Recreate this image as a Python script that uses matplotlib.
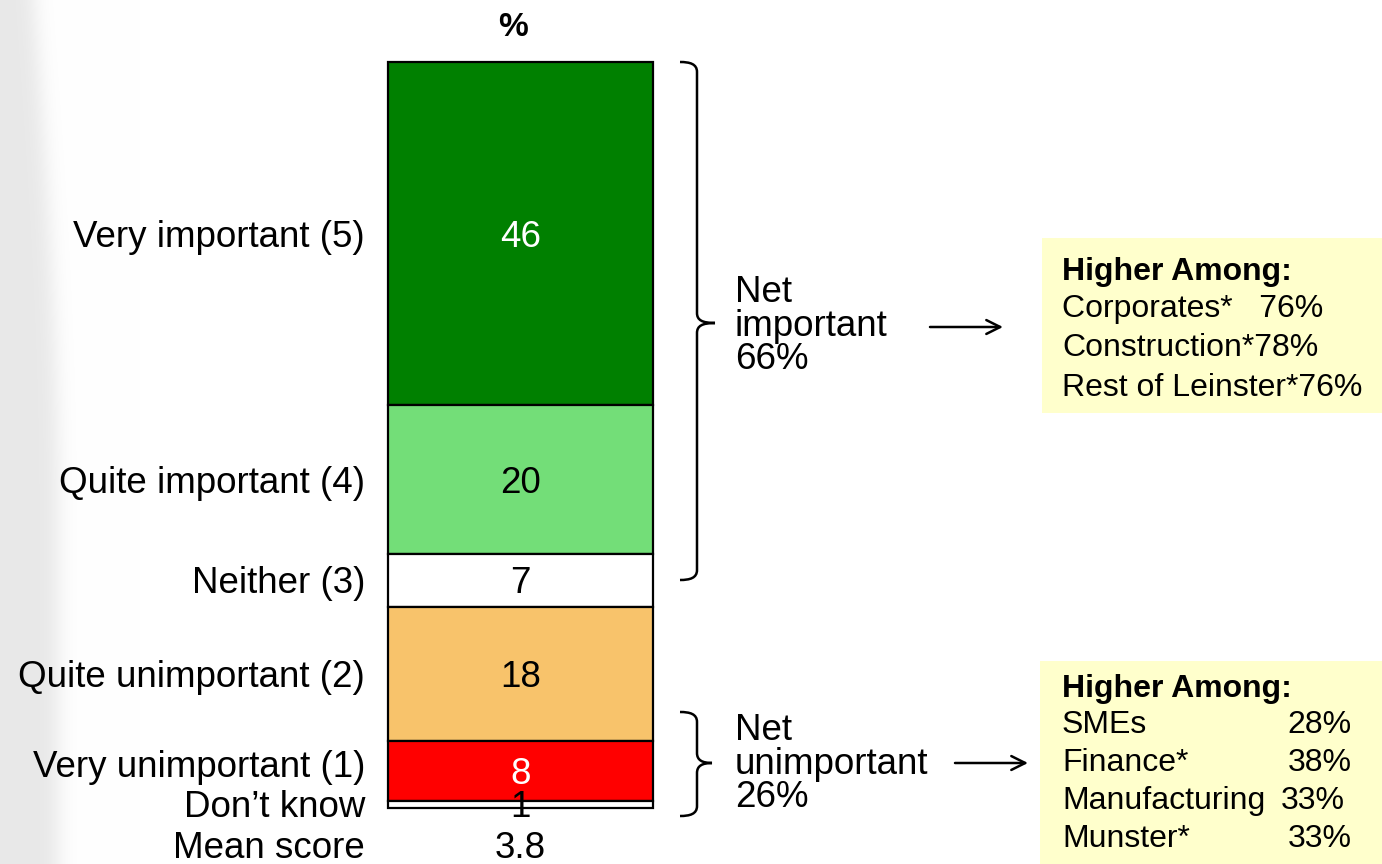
import matplotlib
matplotlib.use("Agg")
import matplotlib.pyplot as plt
import numpy as np
from matplotlib.transforms import blended_transform_factory, offset_copy
from matplotlib.path import Path
from matplotlib.patches import PathPatch, Rectangle

# ---------------- data ----------------
categories = ["Very important (5)", "Quite important (4)", "Neither (3)",
              "Quite unimportant (2)", "Very unimportant (1)", "Don\u2019t know"]
values = [46, 20, 7, 18, 8, 1]
seg_colors = ["#008000", "#73DE78", "#FFFFFF", "#F8C36B", "#FF0000", "#FFFFFF"]
value_text_colors = ["white", "black", "black", "black", "white", "black"]
mean_label = "Mean score"
mean_value = "3.8"
column_header = "%"
net_important = "Net\nimportant\n66%"
net_unimportant = "Net\nunimportant\n26%"
box_header = "Higher Among:"
top_box_lines = ["Corporates*   76%", "Construction*78%", "Rest of Leinster*76%"]
bottom_box_names = ["SMEs", "Finance*", "Manufacturing", "Munster*"]
bottom_box_pcts = ["28%", "38%", "33%", "33%"]

W, H = 1382, 864
FONT = ["Liberation Sans", "DejaVu Sans"]
FS = 26.5

fig = plt.figure(figsize=(W / 100, H / 100), dpi=100)
fig.patch.set_facecolor("white")

# overlay axes in pixel coordinates for annotations
ov = fig.add_axes([0, 0, 1, 1], zorder=0)
ov.axis("off")

# soft grey band on the left edge
gw = 140
yy, xx = np.mgrid[0:H, 0:gw]
edge = 34 + 24 * np.sin(np.clip(yy / 520.0, 0, 1) * np.pi / 2)
t = 1 / (1 + np.exp(-(edge - xx) / 6.0))
val = 1 - 0.09 * t
img = np.dstack([val, val, val])
ov.imshow(img, extent=[0, gw, H, 0], origin="upper", aspect="auto", zorder=0,
          interpolation="bilinear")
ov.set_xlim(0, W)
ov.set_ylim(H, 0)

# bar axes
bar_left, bar_right, bar_top, bar_bottom = 388, 653, 62, 808
ax = fig.add_axes([bar_left / W, (H - bar_bottom) / H,
                   (bar_right - bar_left) / W, (bar_bottom - bar_top) / H], zorder=2)
ax.set_xlim(0, 1)
ax.set_ylim(0, sum(values))
ax.axis("off")
ax.patch.set_visible(False)

bottoms = np.cumsum([0] + values[::-1][:-1])[::-1]
for cat, v, b, c in zip(categories, values, bottoms, seg_colors):
    ax.bar(0.5, v, width=1.0, bottom=b, color=c, edgecolor="black",
           linewidth=1.6, clip_on=False)

trans_lbl = offset_copy(blended_transform_factory(ov.transData, ax.transData),
                        fig=fig, y=-2.5, units="points")
trans_val = offset_copy(ax.transData, fig=fig, y=-2.5, units="points")
label_offsets = [0, 0, 0.0, 0, 0.9, 0]
for cat, v, b, tc, off in zip(categories, values, bottoms, value_text_colors, label_offsets):
    yc = b + v / 2
    ax.text(0.5, yc, str(v), transform=trans_val, ha="center", va="center",
            fontsize=FS, color=tc, family=FONT, clip_on=False)
    ax.text(365, yc + off, cat, transform=trans_lbl, ha="right", va="center",
            fontsize=FS, color="black", family=FONT, clip_on=False)

ov.text(365, 849, mean_label, ha="right", va="center", fontsize=FS, family=FONT)
ov.text(520, 849, mean_value, ha="center", va="center", fontsize=FS, family=FONT)
ov.text(513, 27, column_header, ha="center", va="center", fontsize=24,
        fontweight="bold", family=FONT)


# braces
def brace(y0, y1, ytip, xl=680, xv=697, xt=715, r=10):
    verts = [(xl, y0), (xl + 10, y0), (xv, y0 + 2), (xv, y0 + r),
             (xv, ytip - r),
             (xv, ytip - 3), (xv + 5, ytip), (xt, ytip),
             (xv + 5, ytip), (xv, ytip + 3), (xv, ytip + r),
             (xv, y1 - r),
             (xv, y1 - 2), (xl + 10, y1), (xl, y1)]
    codes = [Path.MOVETO, Path.CURVE4, Path.CURVE4, Path.CURVE4,
             Path.LINETO,
             Path.CURVE4, Path.CURVE4, Path.CURVE4,
             Path.CURVE4, Path.CURVE4, Path.CURVE4,
             Path.LINETO,
             Path.CURVE4, Path.CURVE4, Path.CURVE4]
    ov.add_patch(PathPatch(Path(verts, codes), facecolor="none",
                           edgecolor="black", linewidth=1.8, zorder=3))


brace(62, 580, 323)
brace(712, 816, 763, xt=712)

ov.text(735, 326, net_important, ha="left", va="center", fontsize=FS,
        family=FONT, linespacing=0.96)
ov.text(735, 764, net_unimportant, ha="left", va="center", fontsize=FS,
        family=FONT, linespacing=0.96)

# arrows
for x0, x1, y in [(930, 1003, 327), (955, 1028, 763)]:
    ov.annotate("", xy=(x1, y), xytext=(x0, y),
                arrowprops=dict(arrowstyle="->,head_length=1.0,head_width=0.5",
                                color="black", lw=1.8, shrinkA=0, shrinkB=0))

# yellow boxes
ov.add_patch(Rectangle((1042, 238), W - 1042, 175, facecolor="#FFFFCC",
                       edgecolor="none", zorder=1))
ov.add_patch(Rectangle((1040, 661), W - 1040, H - 661, facecolor="#FFFFCC",
                       edgecolor="none", zorder=1))

ov.text(1062, 272, box_header, ha="left", va="center", fontsize=23,
        fontweight="bold", family=FONT, zorder=4)
for i, line in enumerate(top_box_lines):
    ov.text(1062, 309 + 39.5 * i, line, ha="left", va="center", fontsize=23,
            family=FONT, zorder=4)

ov.text(1062, 689, box_header, ha="left", va="center", fontsize=23,
        fontweight="bold", family=FONT, zorder=4)
pct_right = [1352, 1352, 1345, 1352]
for i, (nm, pc) in enumerate(zip(bottom_box_names, bottom_box_pcts)):
    y = 725 + 38 * i
    ov.text(1062, y, nm, ha="left", va="center", fontsize=23, family=FONT, zorder=4)
    ov.text(pct_right[i], y, pc, ha="right", va="center", fontsize=23,
            family=FONT, zorder=4)

fig.savefig("out.png", dpi=100, facecolor="white")
